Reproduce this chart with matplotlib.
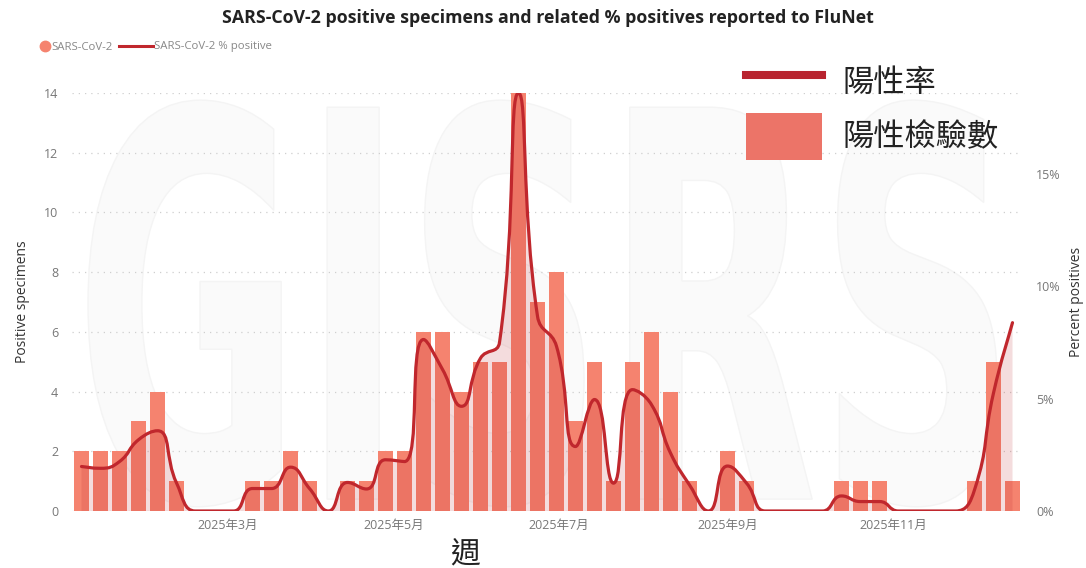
import matplotlib
matplotlib.use("Agg")
import matplotlib.pyplot as plt
import numpy as np
import pandas as pd
from matplotlib.font_manager import FontProperties
from matplotlib.lines import Line2D
from matplotlib.patches import Patch, PathPatch
from matplotlib.path import Path
from matplotlib.textpath import TextPath
from matplotlib.transforms import Affine2D

plt.rcParams["font.family"] = ["Open Sans", "Noto Sans CJK TC", "DejaVu Sans"]

# Weekly data (week starting dates)
FIRST_WEEK = "2025-01-06"
N_WEEKS = 50
POSITIVES = [2, 2, 2, 3, 4, 1, 0, 0, 0, 1,
             1, 2, 1, 0, 1, 1, 2, 2, 6, 6,
             4, 5, 5, 14, 7, 8, 3, 5, 1, 5,
             6, 4, 1, 0, 2, 1, 0, 0, 0, 0,
             1, 1, 1, 0, 0, 0, 0, 1, 5, 1]
PCT_POSITIVE = [1.98, 1.9, 2.2, 3.17, 3.57, 1.25, 0, 0, 0, 1.0,
                1.0, 1.95, 1.0, 0, 1.27, 0.98, 2.28, 2.2, 7.63, 6.3,
                4.66, 6.8, 7.5, 18.6, 8.67, 7.33, 2.87, 4.96, 1.24, 5.4,
                4.73, 2.58, 1.16, 0, 2.0, 1.24, 0, 0, 0, 0,
                0.67, 0.42, 0.42, 0, 0, 0, 0, 0.94, 5.25, 8.38]
MONTH_TICKS = ["2025-03-01", "2025-05-01", "2025-07-01", "2025-09-01", "2025-11-01"]
MONTH_LABELS = ["2025年3月", "2025年5月", "2025年7月", "2025年9月", "2025年11月"]

BAR_COLOR = "#F5836F"
LINE_COLOR = "#C0272D"
GRID_COLOR = "#cfcfcf"
TICK_COLOR = "#777777"
CJK = ["Noto Sans CJK TC", "DejaVu Sans"]


def smooth_controls(px, py, smooth=0.5):
    """Bezier control points in the style of echarts' smooth line (no overshoot)."""
    n = len(px)
    pts = np.column_stack([px, py]).astype(float)
    before = pts.copy()
    after = pts.copy()
    for i in range(n):
        p = pts[i]
        if i == 0:
            after[i] = p + (pts[i + 1] - p) * smooth * 0.5
            continue
        if i == n - 1:
            before[i] = p - (p - pts[i - 1]) * smooth * 0.5
            continue
        prev, nxt = pts[i - 1], pts[i + 1]
        v = (nxt - prev) * smooth
        l0 = np.hypot(*(p - prev))
        l1 = np.hypot(*(nxt - p))
        r = l1 / (l0 + l1)
        nc = p + v * r
        nc = np.minimum(nc, np.maximum(nxt, p))
        nc = np.maximum(nc, np.minimum(nxt, p))
        w = nc - p
        bc = p - w * l0 / l1
        bc = np.minimum(bc, np.maximum(prev, p))
        bc = np.maximum(bc, np.minimum(prev, p))
        w = p - bc
        nc = p + w * l1 / l0
        before[i] = bc
        after[i] = nc
    verts = [pts[0]]
    codes = [Path.MOVETO]
    for i in range(n - 1):
        verts += [after[i], before[i + 1], pts[i + 1]]
        codes += [Path.CURVE4] * 3
    return np.array(verts), codes


fig = plt.figure(figsize=(10.86, 5.68), dpi=100)
ax = fig.add_axes([72 / 1086, 57 / 568, 950 / 1086, 418 / 568])
ax2 = ax.twinx()

weeks = pd.date_range(FIRST_WEEK, periods=N_WEEKS, freq="7D")
x = np.arange(N_WEEKS)

# faint watermark
tp = TextPath((0, 0), "GISRS", size=1, prop=FontProperties(family="DejaVu Sans", weight="bold"))
ext = tp.get_extents()
tx0, tx1, ty0, ty1 = 16 / 950, 925 / 950, 0.01, 0.983
wm_tf = (Affine2D().translate(-ext.x0, -ext.y0)
         .scale((tx1 - tx0) / ext.width, (ty1 - ty0) / ext.height)
         .translate(tx0, ty0))
wm = PathPatch(wm_tf.transform_path(tp), transform=ax.transAxes, facecolor="#fafafa",
               edgecolor="#f4f4f4", lw=1.0, zorder=0.1)
ax.add_patch(wm)

ax.bar(x, POSITIVES, width=0.79, color=BAR_COLOR, zorder=2)
ax.set_xlim(-0.5, N_WEEKS - 0.5)
ax.set_ylim(0, 14)
ax.set_yticks(range(0, 15, 2))
ax.set_axisbelow(True)
ax.yaxis.grid(True, color=GRID_COLOR, linestyle=(0, (1, 4)), lw=0.9)

tick_pos = [(pd.Timestamp(d) - weeks[0]).days / 7 for d in MONTH_TICKS]
ax.set_xticks(tick_pos)
ax.set_xticklabels(MONTH_LABELS)

ax2.set_ylim(0, 18.6)
ax2.set_yticks([0, 5, 10, 15])
ax2.set_yticklabels(["0%", "5%", "10%", "15%"])

for a in (ax, ax2):
    for s in a.spines.values():
        s.set_visible(False)
    a.tick_params(length=0, labelsize=9, colors=TICK_COLOR)
ax.tick_params(axis="y", pad=10)
ax.tick_params(axis="x", pad=6)
ax2.tick_params(axis="y", pad=10)

ax.set_ylabel("Positive specimens", fontsize=10, color="#333333", va="center")
ax.yaxis.set_label_coords(-50 / 950, 0.5)
ax2.set_ylabel("Percent positives", fontsize=10, color="#333333", va="center")
ax2.yaxis.set_label_coords(1 + 55 / 950, 0.5)

# smoothed % positive line, built in pixel space for correct proportions
sx = 950 / N_WEEKS
sy = 418 / 18.6
verts, codes = smooth_controls(x * sx, np.array(PCT_POSITIVE) * sy)
verts = verts / np.array([sx, sy])
line_path = Path(verts, codes)
area_verts = np.vstack([verts, [[x[-1], 0], [x[0], 0], [x[0], 0]]])
area_codes = codes + [Path.LINETO, Path.LINETO, Path.CLOSEPOLY]
ax2.add_patch(PathPatch(Path(area_verts, area_codes), facecolor=LINE_COLOR, alpha=0.16,
                        edgecolor="none", zorder=2))
ax2.add_patch(PathPatch(line_path, facecolor="none", edgecolor=LINE_COLOR, lw=2.3,
                        capstyle="round", joinstyle="round", zorder=3))

fig.text(548 / 1086, 1 - 18 / 568,
         "SARS-CoV-2 positive specimens and related % positives reported to FluNet",
         ha="center", va="center", fontsize=12.8, fontweight="bold", color="#222222")

# small series legend (two pieces so each handle keeps its own width)
fig.legend([Line2D([], [], marker="o", ls="none", ms=7.5, color=BAR_COLOR)],
           ["SARS-CoV-2"], loc="center left",
           bbox_to_anchor=(40 / 1086, 1 - 47 / 568), frameon=False, fontsize=8.2,
           labelcolor="#888888", handlelength=0.8, handletextpad=0.2,
           borderpad=0, borderaxespad=0)
fig.legend([Line2D([], [], color=LINE_COLOR, lw=2.2)], ["SARS-CoV-2 % positive"],
           loc="center left", bbox_to_anchor=(119 / 1086, 1 - 47 / 568), frameon=False,
           fontsize=8.2, labelcolor="#888888", handlelength=3.0, handletextpad=0.05,
           borderpad=0, borderaxespad=0)

big_handles = [
    Line2D([], [], color="#B8232F", lw=5.8),
    Patch(facecolor="#EC7468", edgecolor="none"),
]
fig.legend(big_handles, ["陽性率", "陽性檢驗數"], loc="upper left",
           bbox_to_anchor=(746 / 1086, 1 - 58 / 568), frameon=False,
           prop=FontProperties(family=CJK, size=22.5),
           labelcolor="#222222", handlelength=2.43, handleheight=1.94, handletextpad=0.67,
           labelspacing=0.25, borderpad=0, borderaxespad=0)

fig.text(465 / 1086, 1 - 554 / 568, "週", ha="center", va="center", fontsize=21.5,
         family=CJK, color="#222222")

fig.savefig("out.png", dpi=100)
